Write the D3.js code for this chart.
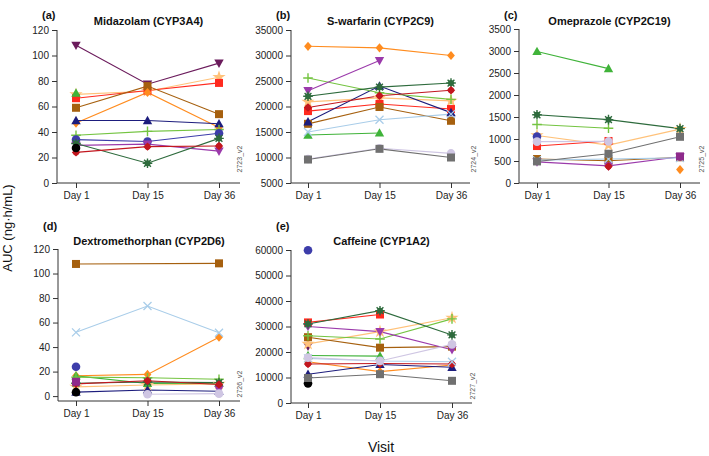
<!DOCTYPE html>
<html><head><meta charset="utf-8">
<script src="https://cdn.jsdelivr.net/npm/d3@7"></script>
<style>
body{margin:0;background:#fff}
svg{display:block;font-family:"Liberation Sans",Arial,Helvetica,sans-serif}
</style>
</head><body>
<svg id="chart" width="709" height="456"></svg>
<script>
// ---------- DATA ----------
const days = ["Day 1", "Day 15", "Day 36"];
const subjects = ["darkpurple","lightorange","red","brown","orange","green","navy","lightgreen",
                  "blue","violet","darkgreen","crimson","black","lightblue","lavender","gray","purple2"];

// AUC values per subject (same order as subjects) : [Day 1, Day 15, Day 36]
const midazolam = [
  [108, 77.5, 94], [69.5, 72, 83], [66.5, 72.5, 78.5], [59, 76, 54], [47, 71, 43.5],
  [70.5, null, null], [49, 49, 46.5], [37.5, 40.5, 42], [34, 32.5, 39], [29.5, 30.5, 25],
  [31, 15.5, 35], [24, 28.5, 29], [27.5, null, null], [null, null, null], [null, null, null],
  [null, null, null], [null, null, null]
];
const swarfarin = [
  [null, null, null], [20900, 21700, 21100], [19100, 20500, 19500], [16600, 19900, 17200], [31800, 31500, 30000],
  [14400, 14800, null], [17000, 24000, 18800], [25600, 22700, 21400], [null, null, null], [23100, 29000, null],
  [22000, 23800, 24600], [19800, 22100, 23200], [null, null, null], [15000, 17400, 18500], [9700, 11800, 10800],
  [9600, 11700, 10000], [null, null, null]
];
const omeprazole = [
  [null, null, null], [1080, 860, 1225], [840, 955, null], [545, 505, 585], [null, null, 305],
  [2990, 2600, null], [null, null, null], [1330, 1245, null], [1055, null, null], [480, 390, 595],
  [1550, 1440, 1235], [null, 375, null], [null, null, null], [520, 545, 570], [940, 945, null],
  [490, 665, 1050], [null, null, 605]
];
const dextromethorphan = [
  [null, null, null], [7.5, 9, 10], [null, null, null], [107.8, null, 108.3], [16.6, 17.7, 48],
  [16.5, 10.3, 10.5], [3.2, 5, 4], [15.5, 15, 13.8], [24, null, null], [null, null, 5.5],
  [10.5, 11.5, 11], [10, 12.5, 9.5], [3.2, null, null], [52, 73.5, 51.7], [null, 1.5, 2],
  [null, null, null], [11.7, null, null]
];
const caffeine = [
  [22300, null, null], [23200, 28000, 33400], [31600, 34700, null], [25800, 21700, 22100], [16200, 12300, 14900],
  [18600, 18400, null], [11300, 15100, 14000], [26400, 25100, 33000], [59900, null, null], [30000, 28000, 20900],
  [31000, 36200, 26700], [15300, 15500, 15300], [7700, null, null], [17500, 16500, 16200], [17800, 16500, 23000],
  [9800, 11300, 8700], [null, null, null]
];

const ticksA = [0, 20, 40, 60, 80, 100, 120];
const ticksB = [5000, 10000, 15000, 20000, 25000, 30000, 35000];
const ticksC = [0, 500, 1000, 1500, 2000, 2500, 3000, 3500];
const ticksD = [0, 20, 40, 60, 80, 100, 120];
const ticksE = [0, 10000, 20000, 30000, 40000, 50000, 60000];

// ---------- STYLES ----------
const subjColor = {
  darkpurple:"#6b1b5c", lightorange:"#ffc27a", red:"#ff2a1f", brown:"#a6600f", orange:"#ff8c1f",
  green:"#40b33a", navy:"#1d1d7d", lightgreen:"#74c441", blue:"#3d3daa", violet:"#9b3aab",
  darkgreen:"#2e6b3d", crimson:"#c2171f", black:"#000000", lightblue:"#a9cde9", lavender:"#cfc6e3",
  gray:"#707070", purple2:"#8e2a8c"
};
const subjShape = {
  darkpurple:"triDown", lightorange:"star", red:"square", brown:"square", orange:"diamond",
  green:"triUp", navy:"triUp", lightgreen:"plus", blue:"circle", violet:"triDown",
  darkgreen:"asterisk", crimson:"crossdiamond", black:"circle", lightblue:"x", lavender:"circle",
  gray:"square", purple2:"square"
};

const panels = [
  {tag:"(a)", title:"Midazolam (CYP3A4)", data:midazolam, ticks:ticksA, ymin:0, ax:57, axEnd:240, p0:76, p1:219, yTop:30, yBot:183, xAxisY:183, code:"2723_v2", codeX:242, codeY:159, tagY:19, titleY:25},
  {tag:"(b)", title:"S-warfarin (CYP2C9)", data:swarfarin, ticks:ticksB, ymin:5000, ax:291, axEnd:470, p0:308, p1:451, yTop:30, yBot:183, xAxisY:183, code:"2724_v2", codeX:476, codeY:159, tagY:19, titleY:25},
  {tag:"(c)", title:"Omeprazole (CYP2C19)", data:omeprazole, ticks:ticksC, ymin:0, ax:519, axEnd:700, p0:537, p1:680, yTop:29, yBot:183, xAxisY:183, code:"2725_v2", codeX:704, codeY:159, tagY:19, titleY:25},
  {tag:"(d)", title:"Dextromethorphan (CYP2D6)", data:dextromethorphan, ticks:ticksD, ymin:-4, ax:58, axEnd:240, p0:76, p1:219, yTop:249, yBot:401, xAxisY:401, code:"2726_v2", codeX:242, codeY:384, tagY:230, titleY:245},
  {tag:"(e)", title:"Caffeine (CYP1A2)", data:caffeine, ticks:ticksE, ymin:0, ax:291, axEnd:472, p0:308, p1:452, yTop:250, yBot:403, xAxisY:403, code:"2727_v2", codeX:475, codeY:386, tagY:230, titleY:245}
];

const svg = d3.select("#chart");
const fmt = d3.format("d");

function marker(g, shape, color) {
  switch (shape) {
    case "square": g.append("rect").attr("x",-4).attr("y",-4).attr("width",8).attr("height",8).attr("fill",color); break;
    case "circle": g.append("circle").attr("r",4.3).attr("fill",color); break;
    case "triUp": g.append("path").attr("d","M0,-4.8L4.7,3.6L-4.7,3.6Z").attr("fill",color); break;
    case "triDown": g.append("path").attr("d","M0,4.8L4.7,-3.6L-4.7,-3.6Z").attr("fill",color); break;
    case "diamond": g.append("path").attr("d","M0,-4.6L3.9,0L0,4.6L-3.9,0Z").attr("fill",color); break;
    case "plus": g.append("path").attr("d","M-4.8,0H4.8M0,-4.8V4.8").attr("stroke",color).attr("stroke-width",1.4).attr("fill","none"); break;
    case "x": g.append("path").attr("d","M-4,-4L4,4M-4,4L4,-4").attr("stroke",color).attr("stroke-width",1.3).attr("fill","none"); break;
    case "star": g.append("path").attr("d", d3.symbol(d3.symbolStar, 55)()).attr("fill",color); break;
    case "asterisk":
      g.append("circle").attr("r",3).attr("fill",color);
      g.append("path").attr("d","M-4.8,0H4.8M0,-4.8V4.8M-3.4,-3.4L3.4,3.4M-3.4,3.4L3.4,-3.4").attr("stroke",color).attr("stroke-width",1.4); break;
    case "crossdiamond":
      g.append("path").attr("d","M0,-4.2L4.2,0L0,4.2L-4.2,0Z").attr("fill",color);
      g.append("circle").attr("r",3).attr("fill",color); break;
  }
}

panels.forEach(p => {
  const g = svg.append("g");
  const y = d3.scaleLinear().domain([p.ymin, p.ticks[p.ticks.length-1]]).range([p.yBot, p.yTop]);
  const x = d3.scalePoint().domain(days).range([p.p0, p.p1]);

  // y axis
  const ya = g.append("g").attr("transform",`translate(${p.ax},0)`)
    .call(d3.axisLeft(y).tickValues(p.ticks).tickFormat(fmt).tickSize(5).tickSizeOuter(0).tickPadding(3));
  ya.select(".domain").remove();
  ya.selectAll("text").attr("font-size",10).attr("fill","#222").attr("font-family",null);
  ya.selectAll("line").attr("stroke","#333");
  g.append("line").attr("x1",p.ax).attr("x2",p.ax).attr("y1",y(p.ticks[p.ticks.length-1])).attr("y2",p.xAxisY).attr("stroke","#333");

  // x axis
  const xa = g.append("g").attr("transform",`translate(0,${p.xAxisY})`)
    .call(d3.axisBottom(x).tickSize(5).tickSizeOuter(0).tickPadding(4));
  xa.select(".domain").remove();
  xa.selectAll("text").attr("font-size",10).attr("fill","#222").attr("font-family",null);
  xa.selectAll("line").attr("stroke","#333");
  g.append("line").attr("x1",p.ax).attr("x2",p.axEnd).attr("y1",p.xAxisY).attr("y2",p.xAxisY).attr("stroke","#333");

  // titles
  g.append("text").attr("x",p.ax-15).attr("y",p.tagY).attr("font-size",11).attr("font-weight","bold").attr("fill","#111").text(p.tag);
  g.append("text").attr("x",(p.ax+p.axEnd)/2).attr("y",p.titleY).attr("text-anchor","middle")
    .attr("font-size",11).attr("font-weight","bold").attr("fill","#111").text(p.title);
  g.append("text").attr("transform",`translate(${p.codeX},${p.codeY}) rotate(-90)`).attr("text-anchor","middle")
    .attr("font-size",7).attr("fill","#555").text(p.code);

  const line = d3.line().x(d => x(d.day)).y(d => y(d.v));
  subjects.forEach((s, i) => {
    const pts = p.data[i].map((v, j) => ({day: days[j], v})).filter(d => d.v !== null);
    if (pts.length > 1) {
      g.append("path").attr("d", line(pts)).attr("fill","none").attr("stroke",subjColor[s]).attr("stroke-width",1.1);
    }
  });
  subjects.forEach((s, i) => {
    const pts = p.data[i].map((v, j) => ({day: days[j], v})).filter(d => d.v !== null);
    pts.forEach(d => {
      const mg = g.append("g").attr("transform",`translate(${x(d.day)},${y(d.v)})`);
      marker(mg, subjShape[s], subjColor[s]);
    });
  });
});

svg.append("text").attr("transform","translate(12,228) rotate(-90)").attr("text-anchor","middle")
  .attr("font-size",13).attr("fill","#111").text("AUC (ng·h/mL)");
svg.append("text").attr("x",381).attr("y",452).attr("text-anchor","middle")
  .attr("font-size",14).attr("fill","#111").text("Visit");
</script>
</body></html>
